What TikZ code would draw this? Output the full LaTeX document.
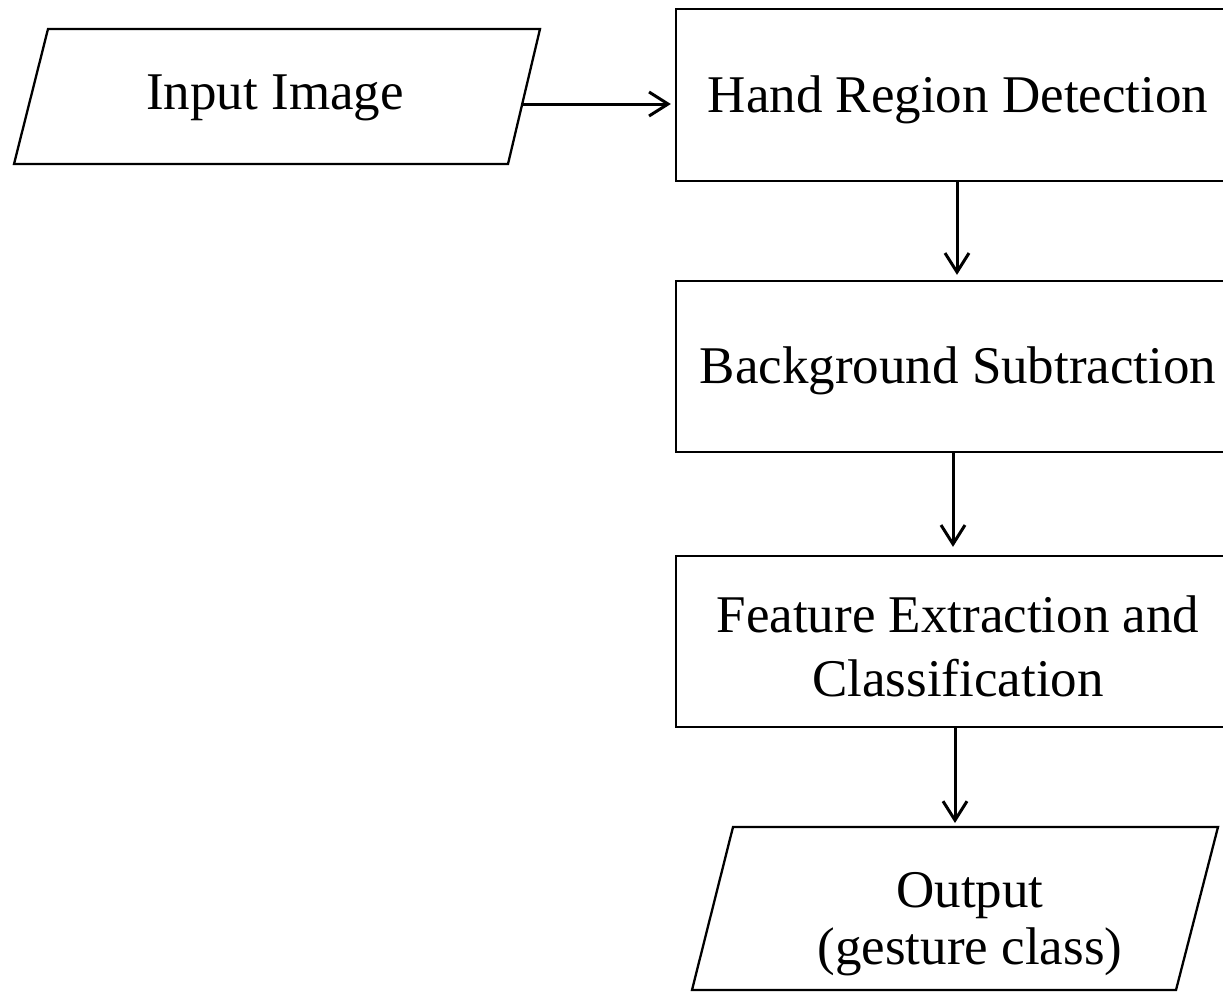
\documentclass[tikz,border=0pt]{standalone}
\usepackage{fontspec}
\setmainfont{Liberation Serif}
\usetikzlibrary{arrows.meta}
% invisible strut that lowers single text lines inside the process boxes
\newcommand{\hstrut}{\rule{0pt}{46pt}}
\begin{document}
\begin{tikzpicture}[x=1pt,y=-1pt,
  frame/.style={draw=black, line width=2.3pt},
  stepbox/.style={frame, rectangle, minimum width=564pt, minimum height=172pt,
    inner sep=0pt, align=center, font=\fontsize{53}{64}\selectfont},
  textlabel/.style={inner sep=0pt, align=center, font=\fontsize{53}{57}\selectfont},
  flow/.style={draw=black, line width=3pt,
    -{Straight Barb[length=19pt,width=24pt]}}]
\useasboundingbox (0,0) rectangle (1223,991);
\clip (0,0) rectangle (1223,991);

% process boxes (their right side runs past the page edge)
\node[stepbox] (hand) at (958,95) {\hstrut Hand Region Detection};
\node[stepbox, minimum height=171pt] (bg) at (958,366.5) {\hstrut Background Subtraction};
\node[stepbox, minimum height=171pt] (feat) at (958,641.5) {\hstrut Feature Extraction and\\Classification};

% input parallelogram
\coordinate (inTL) at (48,29);
\coordinate (inTR) at (540,29);
\coordinate (inBR) at (508,164);
\coordinate (inBL) at (14,164);
\draw[frame] (inTL) -- (inTR) -- (inBR) -- (inBL) -- cycle;
\node[textlabel, anchor=base] (inp) at (275,109) {Input Image};
\coordinate (inR) at (522,104);

% output parallelogram
\coordinate (outTL) at (733,827);
\coordinate (outTR) at (1218,827);
\coordinate (outBR) at (1176,990);
\coordinate (outBL) at (692,990);
\draw[frame] (outTL) -- (outTR) -- (outBR) -- (outBL) -- cycle;
\node[textlabel] (outp) at (970,924) {Output\\(gesture class)};
\coordinate (outTop) at (955,827);

% connectors
\draw[flow, shorten >=4pt] (inR) -- (inR -| hand.west);
\draw[flow, shorten >=5pt] ([xshift=-1pt]hand.south) -- ([xshift=-1pt]bg.north);
\draw[flow, shorten >=8pt] ([xshift=-5pt]bg.south) -- ([xshift=-5pt]feat.north);
\draw[flow, shorten >=4pt] ([xshift=-3pt]feat.south) -- (outTop);
\end{tikzpicture}
\end{document}
